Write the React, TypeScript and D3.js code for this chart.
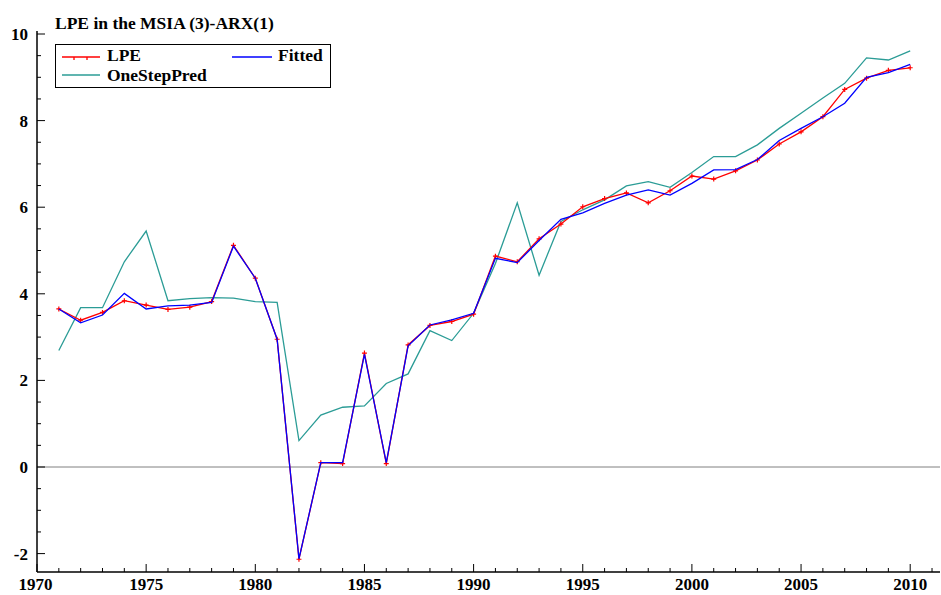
import React from "react";
import * as d3 from "d3";

const years: number[] = d3.range(1971, 2011);
const lpe: number[] = [3.65, 3.39, 3.57, 3.84, 3.74, 3.64, 3.69, 3.82, 5.12, 4.36, 2.95, -2.13, 0.1, 0.08, 2.63, 0.08, 2.82, 3.27, 3.36, 3.53, 4.87, 4.74, 5.27, 5.61, 6.01, 6.2, 6.33, 6.1, 6.38, 6.72, 6.65, 6.84, 7.09, 7.46, 7.74, 8.09, 8.72, 8.98, 9.16, 9.22];
const fitted: number[] = [3.65, 3.33, 3.51, 4.01, 3.65, 3.72, 3.74, 3.8, 5.1, 4.36, 2.95, -2.12, 0.1, 0.1, 2.6, 0.1, 2.8, 3.28, 3.4, 3.55, 4.82, 4.72, 5.23, 5.72, 5.87, 6.09, 6.28, 6.4, 6.28, 6.55, 6.86, 6.87, 7.1, 7.54, 7.82, 8.09, 8.4, 9.0, 9.11, 9.3];
const oneStep: number[] = [2.69, 3.68, 3.68, 4.74, 5.45, 3.84, 3.89, 3.91, 3.9, 3.82, 3.8, 0.61, 1.2, 1.38, 1.41, 1.93, 2.15, 3.15, 2.92, 3.55, 4.7, 6.1, 4.43, 5.67, 5.94, 6.17, 6.49, 6.59, 6.46, 6.8, 7.17, 7.17, 7.44, 7.82, 8.17, 8.52, 8.86, 9.45, 9.4, 9.61];
const yTicks: number[] = [-2, 0, 2, 4, 6, 8, 10];
const xTicks: number[] = [1970, 1975, 1980, 1985, 1990, 1995, 2000, 2005, 2010];
const title = "LPE in the MSIA (3)-ARX(1)";

const W = 941, H = 595;
const left = 37, right = 940, top = 31, bottom = 572;
const font = "'Liberation Serif', serif";

export default function App() {
  const x = d3.scaleLinear().domain([1970, 2010]).range([37, 910.2]);
  const y = d3.scaleLinear().domain([0, 10]).range([467, 34]);
  const line = d3.line<number>().x((_, i) => x(years[i])).y((v) => y(v));
  const minorY = d3.range(-2, 10.01, 0.5);
  const minorX = d3.range(1970, 2012, 1);
  const red = "#ff0000", blue = "#0000ff", teal = "#2b9c96";
  return (
    <svg width={W} height={H} style={{ position: "absolute", left: 0, top: 0, background: "#fff" }}>
      <text x={55} y={29} fontFamily={font} fontWeight="bold" fontSize={17.5}>{title}</text>
      {/* zero line */}
      <line x1={left} x2={right} y1={y(0)} y2={y(0)} stroke="#808080" strokeWidth={1} />
      {/* axes */}
      <line x1={left} x2={left} y1={top} y2={bottom} stroke="#000" strokeWidth={1.5} />
      <line x1={left} x2={right} y1={bottom} y2={bottom} stroke="#000" strokeWidth={1.5} />
      {minorY.map((v) => {
        const major = Math.abs(v % 2) < 1e-6;
        return <line key={"yt" + v} x1={left} x2={left + (major ? 8 : 4)} y1={y(v)} y2={y(v)} stroke="#000" strokeWidth={1} />;
      })}
      {yTicks.map((v) => (
        <text key={"yl" + v} x={28} y={y(v) + 6} textAnchor="end" fontFamily={font} fontWeight="bold" fontSize={17}>{v}</text>
      ))}
      {minorX.map((v) => {
        const major = v % 5 === 0;
        return <line key={"xt" + v} x1={x(v)} x2={x(v)} y1={bottom} y2={bottom - (major ? 8 : 4)} stroke="#000" strokeWidth={1} />;
      })}
      {xTicks.map((v) => (
        <text key={"xl" + v} x={v === 1970 ? 35.5 : x(v)} y={589.5} textAnchor="middle" fontFamily={font} fontWeight="bold" fontSize={17}>{v}</text>
      ))}
      {/* series */}
      <path d={line(oneStep) || ""} fill="none" stroke={teal} strokeWidth={1.3} />
      <path d={line(lpe) || ""} fill="none" stroke={red} strokeWidth={1.3} />
      {lpe.map((v, i) => (
        <path key={"m" + i} d={`M${x(years[i]) - 2.5},${y(v)}h5M${x(years[i])},${y(v) - 2.5}v5`} stroke={red} strokeWidth={1.2} />
      ))}
      <path d={line(fitted) || ""} fill="none" stroke={blue} strokeWidth={1.3} />
      {/* legend */}
      <rect x={55.5} y={44.5} width={275} height={43} fill="#fff" stroke="#000" strokeWidth={1} />
      <line x1={62} x2={100} y1={57} y2={57} stroke={red} strokeWidth={1.3} />
      <path d="M74,57v3M87,57v3" stroke={red} strokeWidth={1.3} />
      <text x={107} y={61} fontFamily={font} fontWeight="bold" fontSize={17.5}>LPE</text>
      <line x1={232} x2={272} y1={57} y2={57} stroke={blue} strokeWidth={1.3} />
      <text x={278} y={61} fontFamily={font} fontWeight="bold" fontSize={17.5}>Fitted</text>
      <line x1={62} x2={100} y1={75} y2={75} stroke={teal} strokeWidth={1.3} />
      <text x={107} y={81} fontFamily={font} fontWeight="bold" fontSize={17.5}>OneStepPred</text>
    </svg>
  );
}
